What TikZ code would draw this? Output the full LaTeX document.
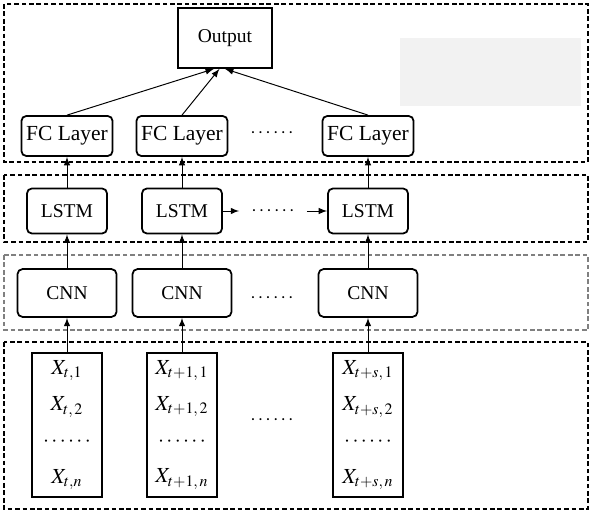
\documentclass[tikz,border=0pt]{standalone}
\usepackage{mathptmx}
\usepackage{fontspec}
\setmainfont{Liberation Serif}
\usepackage{tikz}
\tikzset{>=latex}

\begin{document}
\begin{tikzpicture}[x=0.18mm, y=-0.18mm, font=\fontsize{10}{12}\selectfont,
  frame/.style={line width=0.8, dash pattern=on 2.4pt off 1.4pt},
  cell/.style={draw, line width=0.9, rounded corners=2.5pt, inner sep=0pt},
  input/.style={draw, line width=0.9, minimum width=1.26cm, minimum height=2.59cm, align=center, font=\fontsize{11}{18.5}\selectfont},
  link/.style={->, line width=0.5}]

\useasboundingbox (0,0) rectangle (593,511);

% layer frames
\fill[gray!10] (400,38) rectangle (581,106);
\draw[frame] (4,4) rectangle (588,162);
\draw[frame] (4,175) rectangle (588,242);
\draw[frame, gray] (4,255) rectangle (588,330);
\draw[frame] (4,342) rectangle (588,509);

\node[draw, line width=0.9, minimum width=1.69cm, minimum height=1.08cm] (out) at (225,38) {Output};

% FC layers
\node[cell, minimum width=1.64cm, minimum height=0.72cm, font=\fontsize{11}{13}\selectfont] (fc1) at (67,136) {FC Layer};
\node[cell, minimum width=1.64cm, minimum height=0.72cm, font=\fontsize{11}{13}\selectfont] (fc2) at (182,136) {FC Layer};
\node[cell, minimum width=1.64cm, minimum height=0.72cm, font=\fontsize{11}{13}\selectfont] (fc3) at (368,136) {FC Layer};
\node (fcdots) at (272,133) {$\cdots\cdots$};

% LSTM
\node[cell, minimum width=1.44cm, minimum height=0.81cm] (lstm1) at (67,211) {LSTM};
\node[cell, minimum width=1.44cm, minimum height=0.81cm] (lstm2) at (182,211) {LSTM};
\node[cell, minimum width=1.44cm, minimum height=0.81cm] (lstm3) at (368,211) {LSTM};
\node[inner sep=6pt] (lsdots) at (273,211) {$\cdots\cdots$};

% CNN
\node[cell, minimum width=1.78cm, minimum height=0.86cm] (cnn1) at (67,293) {CNN};
\node[cell, minimum width=1.78cm, minimum height=0.86cm] (cnn2) at (182,293) {CNN};
\node[cell, minimum width=1.78cm, minimum height=0.86cm] (cnn3) at (368,293) {CNN};
\node (cnndots) at (272,298) {$\cdots\cdots$};

% inputs
\node[input] (in1) at (67,425) {$X_{t,1}$\\$X_{t,\,2}$\\$\cdots\cdots$\\$X_{t,n}$};
\node[input] (in2) at (182,425) {$X_{t+1,\,1}$\\$X_{t+1,\,2}$\\$\cdots\cdots$\\$X_{t+1,\,n}$};
\node[input] (in3) at (368,425) {$X_{t+s,\,1}$\\$X_{t+s,\,2}$\\$\cdots\cdots$\\$X_{t+s,\,n}$};
\node (indots) at (272,420) {$\cdots\cdots$};

\draw[link] (fc1.north) -- ([xshift=-0.2cm]out.south);
\draw[link] (fc2.north) -- ([xshift=-0.1cm]out.south);
\draw[link] (fc3.north) -- (out.south);

\draw[link] (lstm1) -- (fc1);
\draw[link] (lstm2) -- (fc2);
\draw[link] (lstm3) -- (fc3);
\draw[link] (lstm2) -- (lsdots);
\draw[link] (lsdots) -- (lstm3);

\draw[link] (cnn1) -- (lstm1);
\draw[link] (cnn2) -- (lstm2);
\draw[link] (cnn3) -- (lstm3);

\draw[link] (in1) -- (cnn1);
\draw[link] (in2) -- (cnn2);
\draw[link] (in3) -- (cnn3);

\end{tikzpicture}
\end{document}
